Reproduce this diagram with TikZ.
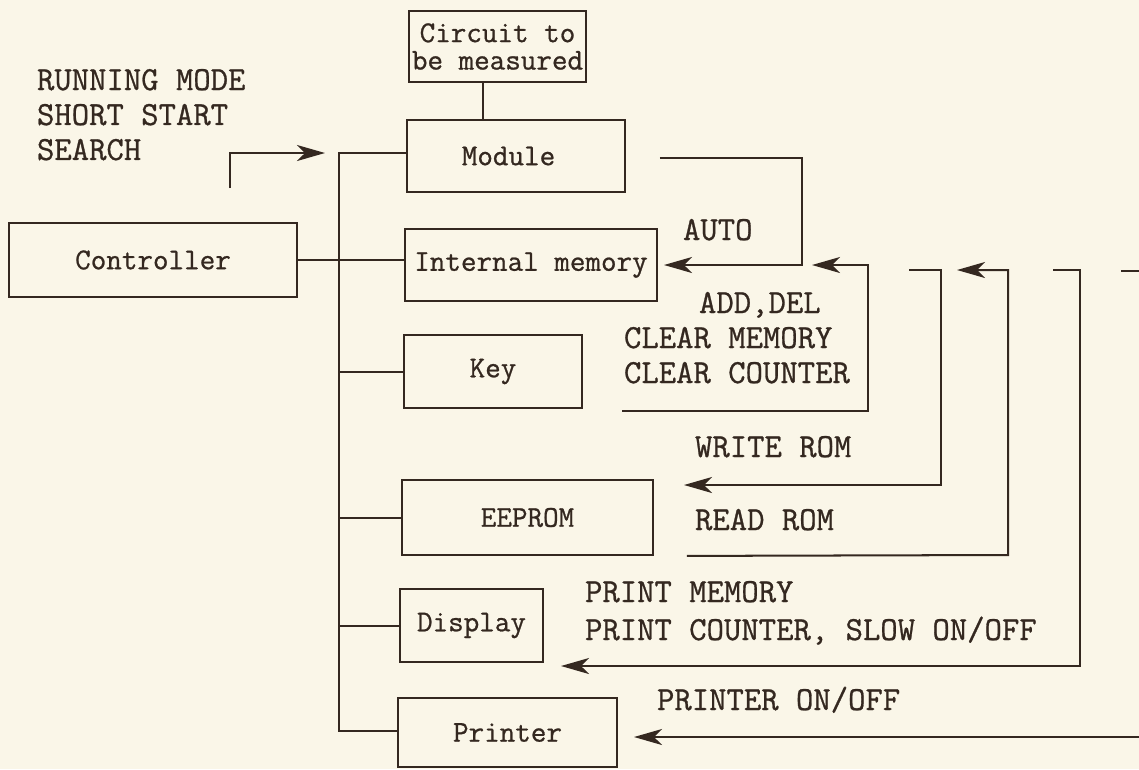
\documentclass[tikz,border=0pt]{standalone}
\usepackage{fontspec}
\setmonofont[FakeBold=0.8]{Latin Modern Mono}
\usetikzlibrary{arrows.meta}
\definecolor{ink}{RGB}{52,40,32}
\definecolor{paper}{RGB}{250,246,232}
\newcommand{\unitfont}{\fontsize{17.2}{15.6}\selectfont\ttfamily}
\newcommand{\cmdfont}{\fontsize{19.2}{19.9}\selectfont\ttfamily}

\begin{document}
\begin{tikzpicture}[x=0.02cm, y=-0.02cm, color=ink, line width=1.15pt,
  >={Stealth[length=0.56cm, width=0.32cm, inset=0.16cm]},
  box/.style={draw, minimum width=#1, minimum height=1.44cm, inner sep=0pt, font=\unitfont},
  box/.default=4cm,
  lbl/.style={inner sep=0pt, anchor=base west, font=\cmdfont}]
\fill[paper] (0,0) rectangle (1139,769);
\useasboundingbox (0,0) rectangle (1139,769);

\node[box=3.54cm, minimum height=1.42cm, align=center] (circuit) at (497.5,46.5) {Circuit to\\be measured};
\node[box=4.36cm] (module) at (516,156) {\hspace*{-0.3cm}Module};
\node[box=5.04cm] (memory) at (531,265) {Internal memory};
\node[box=5.76cm, minimum height=1.48cm] (controller) at (153,260) {Controller};
\node[box=3.56cm, minimum height=1.46cm] (key) at (493,371.5) {Key};
\node[box=5.02cm, minimum height=1.5cm] (eeprom) at (527.5,517.5) {EEPROM};
\node[box=2.86cm, minimum height=1.46cm] (display) at (471.5,625.5) {Display};
\node[box=4.38cm, minimum height=1.38cm] (printer) at (507.5,732.5) {Printer};

% bus on the left
\coordinate (bustop) at (339,153);
\coordinate (busbot) at (339,731);
\draw ([xshift=-0.29cm]circuit.south) -- ([xshift=-0.29cm]circuit.south |- module.north);
\draw (module.west |- bustop) -- (bustop) -- (busbot) -- (busbot -| printer.west);
\draw (controller.east) -- (controller.east -| memory.west);
\draw (key.west) -- (key.west -| bustop);
\draw (eeprom.west) -- (eeprom.west -| bustop);
\draw (display.west) -- (display.west -| bustop);

\node[inner sep=0pt, anchor=north west, align=left, font=\cmdfont] (modes) at (36,68)
  {RUNNING MODE\\SHORT START\\SEARCH};
\coordinate (search) at (230,188);
\draw[->, shorten >=0.28cm] (search) |- (bustop);

% command loops on the right
\coordinate (autor) at (802,158);
\draw[->, shorten <=0.68cm, shorten >=0.12cm] (module.east |- autor) -- (autor) |- (memory.east);
\node[lbl] (auto) at (682,240) {AUTO};

\coordinate (adds) at (622,411);
\coordinate (addr) at (868,411);
\draw[->, shorten >=0.2cm] (adds) -- (addr) |- (autor |- memory.east);
\node[lbl] (adddel) at (698,313) {ADD,DEL};
\node[lbl] (clrmem) at (623,348) {CLEAR MEMORY};
\node[lbl] (clrcnt) at (623,383) {CLEAR COUNTER};

\coordinate (writes) at (909,270);
\coordinate (writer) at (941,270);
\coordinate (writec) at (941,485);
\draw[->, shorten >=0.6cm] (writes) -| (writec) -- (writec -| eeprom.east);
\node[lbl] (writerom) at (694,457) {WRITE ROM};

\coordinate (readr) at (1008,555);
\draw[->, shorten <=0.66cm, shorten >=0.32cm] (eeprom.south east) -- (readr) |- (writer);
\node[lbl] (readrom) at (694,530) {READ ROM};

\coordinate (prints) at (1053,270);
\coordinate (printc) at (1080,666);
\draw[->, shorten >=0.34cm] (prints) -| (printc) -- (printc -| display.east);
\node[lbl] (prmem) at (584,602) {PRINT MEMORY};
\node[lbl] (prcnt) at (584,640) {PRINT COUNTER, SLOW ON/OFF};

\coordinate (stubl) at (1121,271);
\coordinate (stubr) at (1139,271);
\draw (stubl) -- (stubr);

\coordinate (prns) at (1139,737);
\draw[->, shorten >=0.32cm] (prns) -- (prns -| printer.east);
\node[lbl] (proo) at (656,710) {PRINTER ON/OFF};
\end{tikzpicture}
\end{document}
